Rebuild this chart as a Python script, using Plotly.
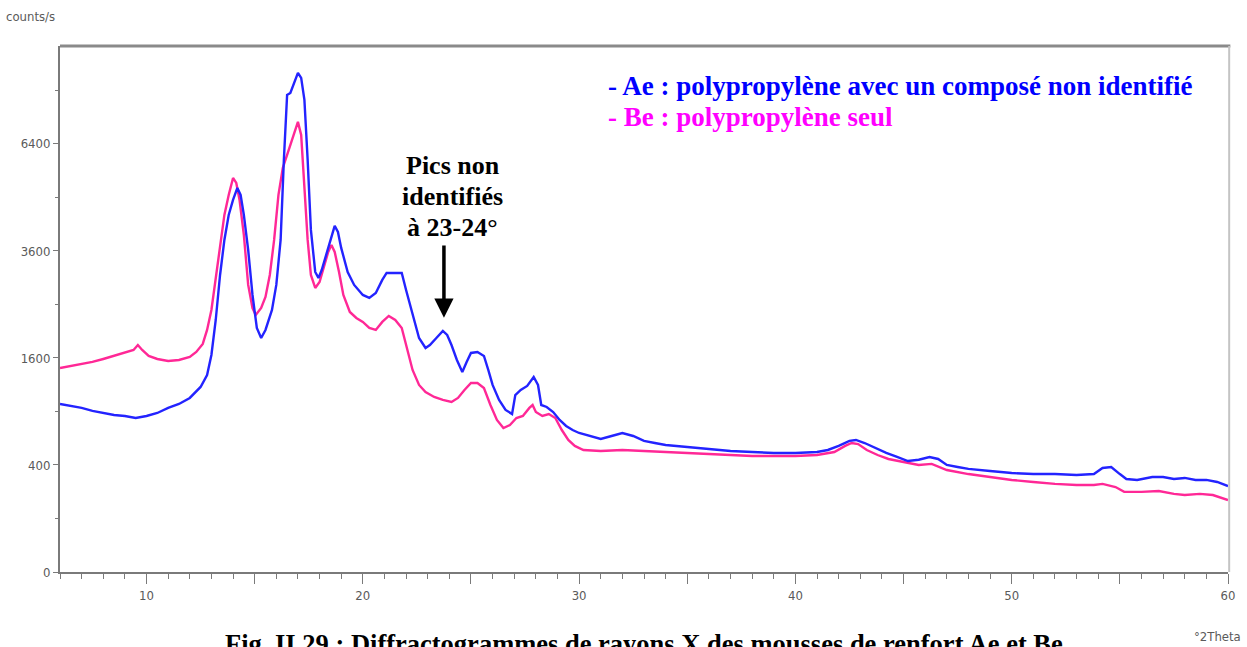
import numpy as np
import plotly.graph_objects as go

# --- X-ray diffractograms (2-theta in degrees, intensity in counts/s) ---
two_theta_ae = [6.0, 6.5, 7.0, 7.5, 8.0, 8.5, 9.0, 9.5, 10.0, 10.5, 11.0, 11.5, 12.0, 12.5, 12.8,
                13.0, 13.2, 13.4, 13.6, 13.8, 14.0, 14.2, 14.35, 14.5, 14.7, 14.9, 15.1, 15.3, 15.5,
                15.8, 16.0, 16.2, 16.35, 16.5, 16.65, 16.8, 17.0, 17.15, 17.3, 17.45, 17.6, 17.8,
                17.95, 18.1, 18.3, 18.5, 18.7, 18.85, 19.0, 19.3, 19.6, 20.0, 20.3, 20.6, 20.9, 21.1,
                21.5, 21.8, 22.0, 22.3, 22.6, 22.9, 23.1, 23.4, 23.7, 23.9, 24.1, 24.35, 24.6, 24.8,
                25.0, 25.3, 25.6, 25.8, 26.0, 26.3, 26.6, 26.9, 27.05, 27.3, 27.6, 27.9, 28.1, 28.25,
                28.5, 28.8, 29.1, 29.4, 29.7, 30.0, 30.5, 31.0, 31.5, 32.0, 32.5, 33.0, 33.5, 34.0,
                35.0, 36.0, 37.0, 38.0, 39.0, 40.0, 41.0, 41.5, 42.0, 42.5, 42.8, 43.2, 43.7, 44.2,
                44.7, 45.2, 45.7, 46.2, 46.6, 47.0, 47.5, 48.0, 49.0, 50.0, 51.0, 52.0, 53.0, 53.8,
                54.2, 54.6, 55.0, 55.3, 55.8, 56.5, 57.0, 57.5, 58.0, 58.5, 59.0, 59.5, 60.0]
counts_ae = [986, 963, 940, 906, 883, 861, 850, 829, 850, 883, 940, 986, 1058, 1196, 1356,
             1645, 2218, 3081, 3851, 4453, 4834, 5152, 4966, 4453, 3622, 2681, 2080, 1913, 2046,
             2398, 2878, 3851, 5930, 7950, 8016, 8320, 8700, 8525, 7784, 5930, 4087, 3144,
             3020, 3185, 3513, 3851, 4183, 4039, 3668, 3144, 2878, 2681, 2623, 2719, 2979, 3123,
             3123, 3123, 2778, 2307, 1913, 1753, 1800, 1913, 2029, 1962, 1800, 1570, 1398, 1541,
             1676, 1691, 1630, 1426, 1222, 1033, 917, 872, 1094, 1157, 1209, 1328, 1222, 974,
             951, 894, 807, 745, 704, 675, 646, 618, 646, 675, 646, 600, 581, 563,
             546, 528, 511, 503, 495, 495, 503, 520, 555, 600, 609, 581, 537, 495,
             462, 430, 440, 462, 446, 400, 385, 371, 356, 342, 335, 335, 329, 335,
             378, 385, 335, 302, 296, 315, 315, 302, 309, 296, 296, 283, 258]

two_theta_be = [6.0, 6.5, 7.0, 7.5, 8.0, 8.5, 9.0, 9.4, 9.6, 9.8, 10.1, 10.5, 11.0, 11.5, 12.0,
                12.3, 12.6, 12.8, 13.0, 13.2, 13.4, 13.6, 13.8, 14.0, 14.15, 14.3, 14.5, 14.7, 14.9,
                15.05, 15.3, 15.5, 15.7, 15.9, 16.1, 16.3, 16.5, 16.7, 16.9, 17.0, 17.15, 17.3,
                17.45, 17.6, 17.8, 18.0, 18.2, 18.4, 18.55, 18.7, 18.9, 19.1, 19.4, 19.7, 20.0,
                20.3, 20.6, 20.9, 21.2, 21.5, 21.8, 22.0, 22.3, 22.6, 22.9, 23.3, 23.7, 24.1, 24.4,
                24.7, 25.0, 25.3, 25.6, 25.9, 26.2, 26.5, 26.8, 27.1, 27.4, 27.7, 27.85, 28.0, 28.3,
                28.6, 28.9, 29.2, 29.5, 29.8, 30.2, 31.0, 32.0, 33.0, 34.0, 35.0, 36.0, 37.0, 38.0,
                39.0, 40.0, 41.0, 41.8, 42.3, 42.6, 42.9, 43.3, 43.8, 44.3, 45.0, 45.7, 46.3, 47.0,
                48.0, 49.0, 50.0, 51.0, 52.0, 53.0, 53.8, 54.2, 54.8, 55.2, 56.0, 56.8, 57.5, 58.0,
                58.7, 59.3, 60.0]
counts_be = [1454, 1483, 1512, 1541, 1585, 1630, 1676, 1722, 1800, 1722, 1630, 1585, 1556, 1570, 1615,
             1691, 1816, 2046, 2398, 2979, 3736, 4453, 4966, 5423, 5287, 4834, 3968, 2878, 2434,
             2307, 2434, 2642, 3081, 3851, 4966, 5702, 6075, 6460, 6889, 7075, 6672, 5233,
             3851, 3081, 2818, 2938, 3228, 3578, 3736, 3578, 3144, 2681, 2362, 2254, 2184,
             2080, 2046, 2184, 2290, 2218, 2080, 1800, 1426, 1222, 1132, 1070, 1034, 1010, 1058,
             1157, 1248, 1248, 1183, 974, 807, 724, 755, 828, 850, 940, 974, 894, 850,
             872, 828, 704, 609, 555, 520, 511, 520, 511, 503, 495, 486, 478, 470,
             470, 470, 478, 503, 555, 581, 572, 520, 478, 446, 423, 400, 408, 363,
             335, 315, 296, 283, 271, 264, 264, 271, 252, 224, 224, 229, 213, 207,
             213, 207, 181]

y_tick_counts = [0, 400, 1600, 3600, 6400]
y_minor_counts = [100, 900, 2500, 4900, 8100]
x_major_ticks = [10, 15, 20, 25, 30, 35, 40, 45, 50, 55, 60]
x_tick_text = ["10", "", "20", "", "30", "", "40", "", "50", "", "60"]

legend_lines = ["- Ae : polypropylène avec un composé non identifié", "- Be : polypropylène seul"]
note_lines = ["Pics non", "identifiés", "à 23-24°"]
caption = "Fig. II.29 : Diffractogrammes de rayons X des mousses de renfort Ae et Be"

BLUE = "rgb(35,35,255)"
PINK = "rgb(255,40,150)"
AXIS_GREY = "#7a7a7a"
TICK_FONT = dict(family="Liberation Sans Narrow, DejaVu Sans Condensed, Arial Narrow, sans-serif",
                 size=13, color="#5a5a5a")
SERIF = "Liberation Serif, Times New Roman, serif"

W, H = 1247, 647
L, R, T, B = 60, 12, 46, 75
plot_w, plot_h = W - L - R, H - T - B


def px_x(p):
    return (p - L) / plot_w


def px_y(p):
    return (H - B - p) / plot_h


# square-root intensity scale, as used by the diffractometer software
sqrt = np.sqrt

fig = go.Figure()
fig.add_trace(go.Scatter(x=two_theta_be, y=sqrt(counts_be), mode="lines",
                         line=dict(color=PINK, width=2.4), showlegend=False))
fig.add_trace(go.Scatter(x=two_theta_ae, y=sqrt(counts_ae), mode="lines",
                         line=dict(color=BLUE, width=2.4), showlegend=False))

fig.update_xaxes(range=[6.0, 60.0], showgrid=False, zeroline=False,
                 showline=True, linecolor=AXIS_GREY, linewidth=2,
                 ticks="outside", tickvals=x_major_ticks, ticktext=x_tick_text,
                 ticklen=10, tickwidth=1, tickcolor=AXIS_GREY, tickfont=TICK_FONT,
                 minor=dict(dtick=1, tick0=0, ticks="outside", ticklen=5, tickwidth=1,
                            tickcolor=AXIS_GREY, showgrid=False))
fig.update_yaxes(range=[0, 98.3], showgrid=False, zeroline=False,
                 showline=True, linecolor=AXIS_GREY, linewidth=2,
                 ticks="outside", tickvals=list(sqrt(y_tick_counts)),
                 ticktext=[str(v) for v in y_tick_counts],
                 ticklen=5, tickwidth=1, tickcolor=AXIS_GREY, tickfont=TICK_FONT,
                 minor=dict(tickvals=list(sqrt(y_minor_counts)), ticks="outside", ticklen=3,
                            tickwidth=1, tickcolor=AXIS_GREY, showgrid=False))

# frame: darker top edge, light right edge
fig.add_shape(type="line", xref="paper", yref="paper", x0=0, x1=1.002, y0=1, y1=1,
              line=dict(color="#8a8a8a", width=3))
fig.add_shape(type="line", xref="paper", yref="paper", x0=1.001, x1=1.001, y0=0, y1=1,
              line=dict(color="#c4c4c4", width=2))

annotations = [
    dict(x=px_x(4), y=px_y(17), xref="paper", yref="paper", xanchor="left", yanchor="middle",
         text="counts/s", showarrow=False, font=TICK_FONT),
    dict(x=px_x(1199), y=px_y(636), xref="paper", yref="paper", xanchor="left", yanchor="middle",
         text="°2Theta", showarrow=False, font=TICK_FONT),
    dict(x=23.75, y=47.5, xref="x", yref="y", ax=23.75, ay=61.3, axref="x", ayref="y",
         text="", showarrow=True, arrowhead=2, arrowsize=1.1, arrowwidth=3.5, arrowcolor="black"),
    dict(x=px_x(647), y=px_y(627), xref="paper", yref="paper", xanchor="center", yanchor="top",
         text="<b>" + caption + "</b>", showarrow=False,
         font=dict(family=SERIF, size=26.5, color="black")),
]
for line, color, ypix in zip(legend_lines, ["#0000ff", "#ff00ff"], [86, 117]):
    annotations.append(dict(x=px_x(609), y=px_y(ypix), xref="paper", yref="paper",
                            xanchor="left", yanchor="middle", text="<b>" + line + "</b>",
                            showarrow=False, font=dict(family=SERIF, size=27, color=color)))
for line, ypix in zip(note_lines, [165, 197, 228]):
    annotations.append(dict(x=px_x(455), y=px_y(ypix), xref="paper", yref="paper",
                            xanchor="center", yanchor="middle", text="<b>" + line + "</b>",
                            showarrow=False, font=dict(family=SERIF, size=26, color="black")))
fig.update_layout(annotations=annotations)

fig.update_layout(width=W, height=H, margin=dict(l=L, r=R, t=T, b=B),
                  plot_bgcolor="white", paper_bgcolor="white")

fig.write_html("out.html")
